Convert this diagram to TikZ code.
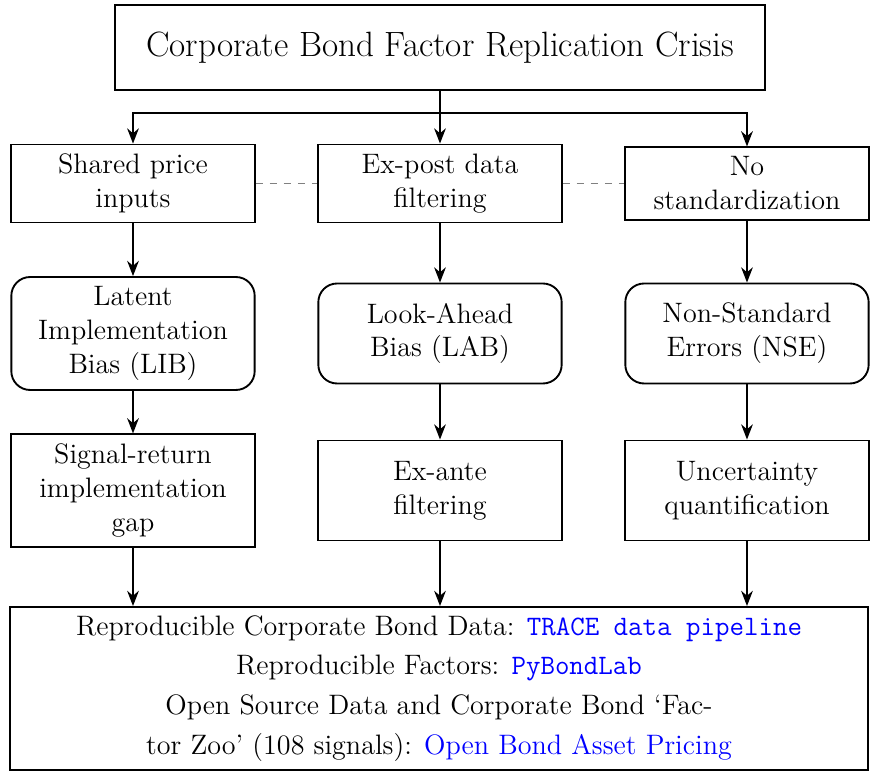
\documentclass[tikz,border=0pt,12pt]{standalone}
\usepackage{tikz}
\usetikzlibrary{arrows.meta,positioning}

\begin{document}
\begin{tikzpicture}[x=0.015cm,y=-0.015cm,
    box/.style={draw,thick,text width=3cm,align=flush center,minimum width=3.65cm},
    biasbox/.style={box,rounded corners=8pt,minimum height=1.5cm},
    fixbox/.style={box,minimum height=1.5cm},
    arrow/.style={thick,-{Stealth[length=6.5pt,width=5pt]}},
    link/.style={thick,gray,dashed}]
    \useasboundingbox (0,0) rectangle (870,773);

    % problem
    \node[draw,thick,font=\fontsize{15}{18}\selectfont,minimum width=9.75cm,minimum height=1.275cm] (crisis) at (440,47.5) {Corporate Bond Factor Replication Crisis};

    % causes
    \node[box] (shared) at (133,183.5) {Shared price inputs};
    \node[box] (expost) at (440,183.5) {Ex-post data filtering};
    \node[box] (nostd) at (747,183.5) {No standardization};

    % biases
    \node[biasbox] (lib) at (133,333.5) {Latent Implementation Bias (LIB)};
    \node[biasbox] (lab) at (440,333.5) {Look-Ahead Bias (LAB)};
    \node[biasbox] (nse) at (747,333.5) {Non-Standard Errors (NSE)};

    % fixes
    \node[fixbox] (gap) at (133,490.5) {Signal-return implementation gap};
    \node[fixbox] (exante) at (440,490.5) {Ex-ante\\filtering};
    \node[fixbox] (uncert) at (747,490.5) {Uncertainty quantification};

    % resources
    \node[draw,thick,align=center,inner ysep=2pt,minimum width=12.87cm,minimum height=2.445cm] (open) at (439,688.5)
        {Reproducible Corporate Bond Data: \textcolor{blue}{\texttt{TRACE data pipeline}}\\[2.5pt]
         Reproducible Factors: \textcolor{blue}{\texttt{PyBondLab}}\\[2.5pt]
         Open Source Data and Corporate Bond `Fac-\\[2.5pt]
         tor Zoo' (108 signals): \textcolor{blue}{Open Bond Asset Pricing}};

    \draw[arrow] (crisis) -- (expost);
    \draw[arrow] (crisis.south) -- ++(0,22) -| (shared.north);
    \draw[arrow] (crisis.south) -- ++(0,22) -| (nostd.north);

    \draw[link] (shared) -- (expost);
    \draw[link] (expost) -- (nostd);

    \draw[arrow] (shared) -- (lib);
    \draw[arrow] (expost) -- (lab);
    \draw[arrow] (nostd) -- (nse);
    \draw[arrow] (lib) -- (gap);
    \draw[arrow] (lab) -- (exante);
    \draw[arrow] (nse) -- (uncert);
    \draw[arrow] (gap.south) -- (gap.south |- open.north);
    \draw[arrow] (exante.south) -- (exante.south |- open.north);
    \draw[arrow] (uncert.south) -- (uncert.south |- open.north);
\end{tikzpicture}
\end{document}
